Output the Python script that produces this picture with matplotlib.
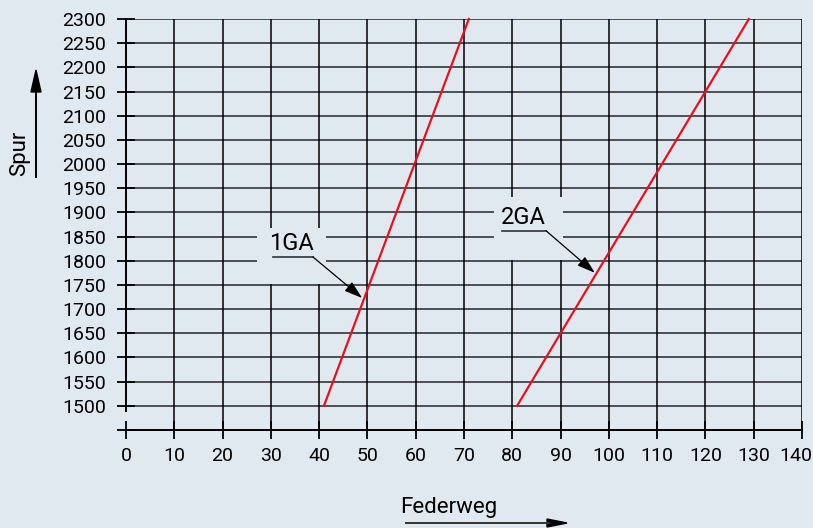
import numpy as np
import matplotlib.pyplot as plt
import matplotlib.transforms as mtransforms
from matplotlib.patches import Rectangle

# ============================================================
# DATA
# ============================================================

x_ticks = list(range(0, 141, 10))
y_ticks = list(range(1500, 2301, 50))

ga1_x = [41, 71]
ga1_y = [1500, 2300]
ga2_x = [81, 129]
ga2_y = [1500, 2300]

BG = "#e0e8f0"
RED = "#e8101a"
FONT = ["Roboto", "DejaVu Sans"]

plt.rcParams["font.family"] = FONT

fig = plt.figure(figsize=(8.13, 5.28), dpi=100, facecolor=BG)
ax = fig.add_axes([126/813, 1 - 430/528, 676/813, 411/528])
ax.set_facecolor(BG)
ax.set_xlim(0, 140)
ax.set_ylim(1450, 2300)

for s in ["top", "right", "left"]:
    ax.spines[s].set_visible(False)
ax.spines["bottom"].set_linewidth(1.4)

# grid
for yv in y_ticks:
    ax.axhline(yv, color="#404448", lw=1.3, zorder=1)
for xv in x_ticks[1:]:
    ax.axvline(xv, color="black", lw=1.1, zorder=1)
ax.plot([0, 0], [1490, 2300], color="black", lw=1.4, zorder=1, clip_on=False)

ax.set_xticks(x_ticks)
ax.set_yticks([1450] + y_ticks)
ax.set_yticklabels([""] + [str(v) for v in y_ticks])
ax.tick_params(axis="both", direction="inout", length=13, width=1.3,
               color="black", labelsize=14)
ax.tick_params(axis="y", pad=8)
ax.tick_params(axis="x", pad=6)

# last x label nudged left so it stays inside the figure
last = ax.get_xticklabels()[-1]
last.set_transform(last.get_transform() +
                   mtransforms.ScaledTranslation(-6/100, 0, fig.dpi_scale_trans))

# masks behind labels
ax.add_patch(Rectangle((27.1, 1752), 14.4, 116, facecolor=BG, edgecolor="none", zorder=2))
ax.add_patch(Rectangle((76.2, 1801), 14.3, 131, facecolor=BG, edgecolor="none", zorder=2))

# red lines
ax.plot(ga1_x, ga1_y, color=RED, lw=1.6, zorder=4, clip_on=False)
ax.plot(ga2_x, ga2_y, color=RED, lw=1.6, zorder=4, clip_on=False)

# labels with leaders
def label(txt, tx, ty, ux0, ux1, uy, px, py):
    ax.text(tx, ty, txt, fontsize=17, ha="center", va="center", zorder=5)
    ax.plot([ux0, ux1], [uy, uy], color="#333333", lw=1.2, zorder=5)
    ax.annotate("", xy=(px, py), xytext=(ux1, uy), zorder=5,
                arrowprops=dict(arrowstyle="-|>,head_length=1.1,head_width=0.35",
                                color="black", lw=0.9, shrinkA=0, shrinkB=0))

label("1GA", 34.3, 1836, 30.4, 38.7, 1808, 48.9, 1723)
label("2GA", 82.2, 1889, 77.8, 87.0, 1862, 97.1, 1775)

# axis titles with arrows
fig.text(20/813, 1 - 153/528, "Spur", rotation=90, fontsize=16,
         ha="center", va="center")
fig.add_artist(plt.Line2D([36/813, 36/813], [1 - 177/528, 1 - 90/528],
                          color="black", lw=1.4))
fig.patches.append(plt.Polygon([[31/813, 1 - 92/528], [41/813, 1 - 92/528],
                                [36/813, 1 - 70/528]], closed=True,
                               color="black", transform=fig.transFigure))

fig.text(449/813, 1 - 507/528, "Federweg", fontsize=16, ha="center", va="center")
fig.add_artist(plt.Line2D([406/813, 549/813], [1 - 523/528, 1 - 523/528],
                          color="#333333", lw=1.4))
fig.patches.append(plt.Polygon([[547/813, 1 - 519/528], [547/813, 1 - 527/528],
                                [567/813, 1 - 523/528]], closed=True,
                               color="black", transform=fig.transFigure))

fig.savefig("out.png", dpi=100, facecolor=BG)
